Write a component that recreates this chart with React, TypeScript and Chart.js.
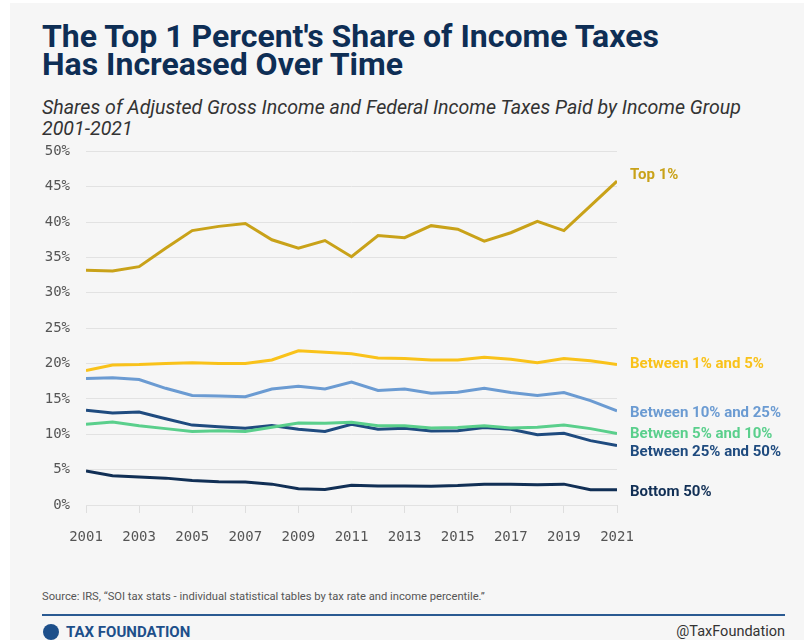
import React, { useEffect, useRef } from "react";
import { Chart, registerables } from "chart.js";

Chart.register(...registerables);

const years = [2001, 2002, 2003, 2004, 2005, 2006, 2007, 2008, 2009, 2010, 2011, 2012, 2013, 2014, 2015, 2016, 2017, 2018, 2019, 2020, 2021];

const top1 = [33.2, 33.1, 33.7, 36.3, 38.8, 39.4, 39.8, 37.5, 36.3, 37.4, 35.1, 38.1, 37.8, 39.5, 39.0, 37.3, 38.5, 40.1, 38.8, 42.3, 45.8];
const between1and5 = [19.0, 19.8, 19.85, 20.0, 20.1, 20.0, 20.0, 20.5, 21.8, 21.6, 21.4, 20.8, 20.7, 20.5, 20.5, 20.9, 20.6, 20.1, 20.7, 20.4, 19.85];
const between10and25 = [17.9, 18.0, 17.75, 16.5, 15.5, 15.4, 15.3, 16.4, 16.8, 16.4, 17.4, 16.2, 16.4, 15.8, 15.95, 16.5, 15.9, 15.5, 15.9, 14.75, 13.3];
const between5and10 = [11.4, 11.75, 11.2, 10.8, 10.4, 10.5, 10.4, 11.0, 11.6, 11.55, 11.7, 11.2, 11.2, 10.9, 10.95, 11.2, 10.9, 11.0, 11.3, 10.8, 10.1];
const between25and50 = [13.4, 13.0, 13.15, 12.2, 11.3, 11.05, 10.85, 11.25, 10.7, 10.4, 11.4, 10.7, 10.85, 10.45, 10.5, 10.95, 10.7, 9.95, 10.15, 9.1, 8.4];
const bottom50 = [4.8, 4.15, 3.95, 3.8, 3.45, 3.3, 3.25, 2.95, 2.3, 2.2, 2.8, 2.7, 2.7, 2.65, 2.75, 2.95, 2.95, 2.85, 2.95, 2.15, 2.15];

const seriesNames = ["Top 1%", "Between 1% and 5%", "Between 10% and 25%", "Between 5% and 10%", "Between 25% and 50%", "Bottom 50%"];
const seriesValues = [top1, between1and5, between10and25, between5and10, between25and50, bottom50];
const seriesColors = ["#C9A219", "#F9C21A", "#6B9BD2", "#5ACF8C", "#1F4B7F", "#112F55"];
const labelNudge = [-6, 0, 2, 1, 7, 2];

const yTicks = [0, 5, 10, 15, 20, 25, 30, 35, 40, 45, 50];

const endLabels = {
  id: "endLabels",
  afterDatasetsDraw(chart: any) {
    const ctx = chart.ctx;
    ctx.save();
    ctx.font = "bold 15px Roboto";
    ctx.textBaseline = "middle";
    ctx.textAlign = "left";
    chart.data.datasets.forEach((ds: any, i: number) => {
      const meta = chart.getDatasetMeta(i);
      const last = meta.data[meta.data.length - 1];
      ctx.fillStyle = ds.borderColor;
      ctx.fillText(ds.label, chart.chartArea.right + 13, last.y + labelNudge[i]);
    });
    ctx.restore();
  },
};

export default function App() {
  const ref = useRef<HTMLCanvasElement>(null);
  useEffect(() => {
    if (!ref.current) return;
    const chart = new Chart(ref.current, {
      type: "line",
      data: {
        datasets: seriesNames.map((name, i) => ({
          label: name,
          data: years.map((y, j) => ({ x: y, y: seriesValues[i][j] })),
          borderColor: seriesColors[i],
          backgroundColor: seriesColors[i],
          borderWidth: 3,
          pointRadius: 0,
          tension: 0,
        })),
      },
      options: {
        animation: false,
        responsive: false,
        maintainAspectRatio: false,
        layout: { padding: { left: 0, right: 187, top: 9, bottom: 0 } },
        plugins: { legend: { display: false }, tooltip: { enabled: false } },
        scales: {
          x: {
            type: "linear",
            min: 2001,
            max: 2021,
            afterBuildTicks: (scale: any) => {
              scale.ticks = years.filter((y) => (y - 2001) % 2 === 0).map((v) => ({ value: v }));
            },
            afterFit: (scale: any) => {
              scale.height = 55;
            },
            ticks: {
              callback: (v: any) => String(v),
              font: { family: "DejaVu Sans Mono", size: 14 },
              color: "#555",
              padding: 16,
              maxRotation: 0,
            },
            grid: { drawOnChartArea: false, tickLength: 8, color: "#dedede" },
            border: { display: false },
          },
          y: {
            min: 0,
            max: 50,
            afterBuildTicks: (scale: any) => {
              scale.ticks = yTicks.map((v) => ({ value: v }));
            },
            afterFit: (scale: any) => {
              scale.width = 86;
            },
            ticks: {
              callback: (v: any) => v + "%",
              font: { family: "DejaVu Sans Mono", size: 14 },
              color: "#555",
              padding: 16,
            },
            grid: { color: "#e2e2e2", drawTicks: false, lineWidth: 1 },
            border: { display: false },
          },
        },
      },
      plugins: [endLabels],
    });
    return () => chart.destroy();
  }, []);

  return (
    <div style={{ position: "absolute", left: 0, top: 0, width: 804, height: 640, background: "#fff", overflow: "hidden" }}>
      <div style={{ position: "absolute", left: 10, top: 3, width: 794, height: 637, background: "#f6f6f6" }} />
      <div style={{ position: "absolute", left: 42, top: 22, fontFamily: "Roboto", fontWeight: 700, fontSize: 32, lineHeight: "28px", color: "#0E2E55", whiteSpace: "nowrap" }}>
        <div>The Top 1 Percent's Share of Income Taxes</div>
        <div>Has Increased Over Time</div>
      </div>
      <div style={{ position: "absolute", left: 42, top: 97, fontFamily: "Roboto", fontStyle: "italic", fontSize: 19.6, lineHeight: "21px", color: "#333", whiteSpace: "nowrap" }}>
        <div>Shares of Adjusted Gross Income and Federal Income Taxes Paid by Income Group</div>
        <div>2001-2021</div>
      </div>
      <canvas ref={ref} width={804} height={433} style={{ position: "absolute", left: 0, top: 127, width: 804, height: 433 }} />
      <div style={{ position: "absolute", left: 42, top: 590, fontFamily: "'Liberation Sans Narrow', Roboto", fontSize: 11.2, color: "#555", whiteSpace: "nowrap" }}>
        Source: IRS, “SOI tax stats - individual statistical tables by tax rate and income percentile.”
      </div>
      <div style={{ position: "absolute", left: 42, top: 614, width: 743, height: 2, background: "#2A5A92" }} />
      <div style={{ position: "absolute", left: 43, top: 624, width: 16, height: 16, borderRadius: "50%", background: "#1D4F8A" }} />
      <div style={{ position: "absolute", left: 66, top: 623, fontFamily: "'Liberation Sans Narrow', Roboto", fontWeight: 700, fontSize: 15, color: "#1D4F8A", whiteSpace: "nowrap" }}>
        TAX FOUNDATION
      </div>
      <div style={{ position: "absolute", right: 19, top: 623, fontFamily: "Roboto", fontSize: 14.5, color: "#333", whiteSpace: "nowrap" }}>
        @TaxFoundation
      </div>
    </div>
  );
}
